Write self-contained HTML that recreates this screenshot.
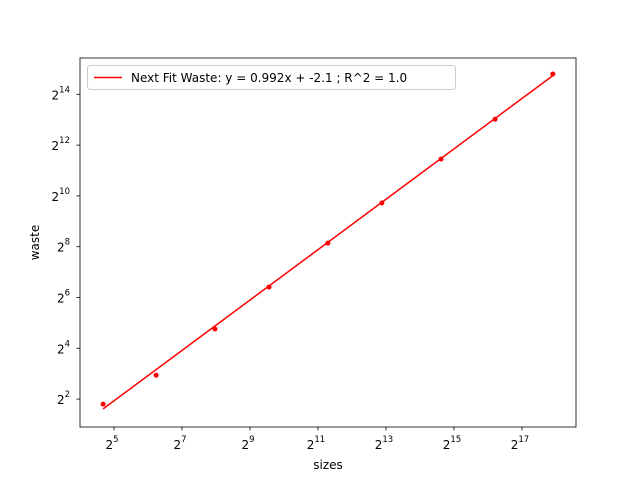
<!DOCTYPE html>
<html><head><meta charset="utf-8"><style>
body{margin:0;background:#fff}
svg{font-family:"DejaVu Sans","Liberation Sans",sans-serif}
</style></head><body>
<svg id="c" width="640" height="480"></svg>
<script>
const xLog2 = [4.68, 6.24, 7.97, 9.56, 11.29, 12.88, 14.62, 16.21, 17.91];
const yLog2 = [1.80, 2.94, 4.76, 6.41, 8.14, 9.72, 11.45, 13.02, 14.80];
const fitSlope = 0.992;
const fitInterceptLn = -2.1;
const xTicks = [5, 7, 9, 11, 13, 15, 17];
const yTicks = [2, 4, 6, 8, 10, 12, 14];
const legendText = "Next Fit Waste: y = 0.992x + -2.1 ; R^2 = 1.0";

const L=80,R=576,T=58,B=427;
const xMin=4.0,xMax=18.59,yMin=0.90,yMax=15.43;
const sx=v=>L+(v-xMin)/(xMax-xMin)*(R-L);
const sy=v=>B-(v-yMin)/(yMax-yMin)*(B-T);
const svg=document.getElementById('c');
const NS='http://www.w3.org/2000/svg';
function mk(t,a,p){const e=document.createElementNS(NS,t);for(const k in a)e.setAttribute(k,a[k]);(p||svg).appendChild(e);return e;}

const frame=mk('rect',{x:L,y:T,width:R-L,height:B-T,fill:'none',stroke:'#000','stroke-width':0.8});



xTicks.forEach(t=>{
  const x=sx(t);
  const l=mk('line',{x1:x,x2:x,y1:B,y2:B+3.5,stroke:'#000','stroke-width':0.8});
  
  
  const tx=mk('text',{x:x-2,y:B+22,'font-size':12,'text-anchor':'middle'});
  
  
  tx.innerHTML='2<tspan dy="-7" font-size="8.5">'+t+'</tspan>';
});
yTicks.forEach(t=>{
  const y=sy(t);
  const l=mk('line',{x1:L-3.5,x2:L,y1:y,y2:y,stroke:'#000','stroke-width':0.8});
  
  
  const tx=mk('text',{x:L-10,y:y+5,'font-size':12,'text-anchor':'end'});
  
  
  tx.innerHTML='2<tspan dy="-7" font-size="8.5">'+t+'</tspan>';
});

const xl=mk('text',{x:(L+R)/2,y:469,'font-size':12,'text-anchor':'middle'});xl.textContent='sizes';


const yl=mk('text',{x:39,y:(T+B)/2,'font-size':12,'text-anchor':'middle',transform:`rotate(-90 39 ${(T+B)/2})`});yl.textContent='waste';



const fy=x=>fitSlope*x+fitInterceptLn/Math.LN2;
const x0=xLog2[0],x1=xLog2[xLog2.length-1];
const fl=mk('line',{x1:sx(x0),y1:sy(fy(x0)),x2:sx(x1),y2:sy(fy(x1)),stroke:'#f00','stroke-width':1.5});



xLog2.forEach((v,i)=>{
  const c=mk('circle',{cx:sx(v),cy:sy(yLog2[i]),r:2.5,fill:'#f00'});
  
  
});

const lg=mk('g',{});


mk('rect',{x:87.5,y:65.5,width:368,height:24,rx:3,fill:'#fff',stroke:'#ccc'},lg);
mk('line',{x1:94,x2:122,y1:77.5,y2:77.5,stroke:'#f00','stroke-width':1.5},lg);
const lt=mk('text',{x:131,y:82,'font-size':12},lg);lt.textContent=legendText;
</script>
</body></html>
